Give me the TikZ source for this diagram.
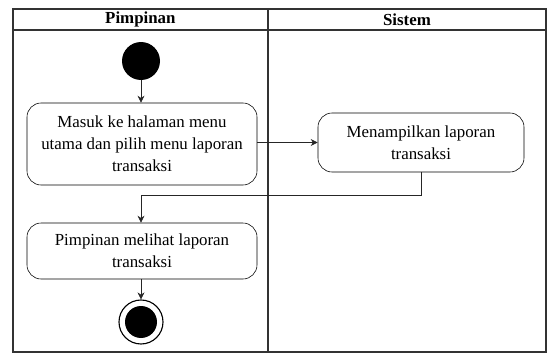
\documentclass[tikz,border=0pt]{standalone}
\usepackage{fontspec}
\setmainfont{Liberation Serif}
\usetikzlibrary{arrows.meta}

\begin{document}
\begin{tikzpicture}[
        aksi/.style={draw, rounded corners=10pt, align=center, font=\fontsize{12}{15.5}\selectfont, inner sep=2pt},
        panah/.style={-{Stealth[length=5pt,width=5pt]}, draw=black!85}
    ]
            \useasboundingbox (0,0) rectangle (13.7,8.85);
            % swimlane
            \draw[thick, black!80] (0.325,0.05) rectangle (13.65,8.625);
            \draw[thick, black!80] (0.325,8.1)--(13.65,8.1);
            \draw[thick, black!80] (6.7,0.05)--(6.7,8.625);
            \node[font=\bfseries\fontsize{12}{14}\selectfont] (jalur1) at (3.51,8.36) {Pimpinan};
            \node[font=\bfseries\fontsize{12}{14}\selectfont] (jalur2) at (10.175,8.36) {Sistem};
            % aktivitas
            \node[circle, fill=black, minimum size=0.95cm, inner sep=0pt] (mulai) at (3.525,7.325) {};
            \node[aksi, minimum width=5.75cm, minimum height=2.05cm] (masuk) at (3.55,5.25) {Masuk ke halaman menu\\utama dan pilih menu laporan\\transaksi};
            \node[aksi, minimum width=5.15cm, minimum height=1.475cm] (tampil) at (10.525,5.2875) {Menampilkan laporan\\transaksi};
            \node[aksi, minimum width=5.75cm, minimum height=1.4cm] (lihat) at (3.55,2.575) {Pimpinan melihat laporan\\transaksi};
            \node[circle, draw, thick, minimum size=1.1cm, inner sep=0pt] (selesai) at (3.525,0.8) {};
            \fill (selesai.center) circle (0.4);
            \coordinate (belok) at (tampil.south |- 0,3.975);
            % alur
            \draw[panah] (mulai)--(masuk.north -| mulai);
            \draw[panah] (masuk.east |- tampil.west)--(tampil.west);
            \draw[panah] (tampil.south)--(belok)--(belok -| mulai)--(lihat.north -| mulai);
            \draw[panah] (lihat.south -| selesai)--(selesai);
        \end{tikzpicture}
\end{document}
